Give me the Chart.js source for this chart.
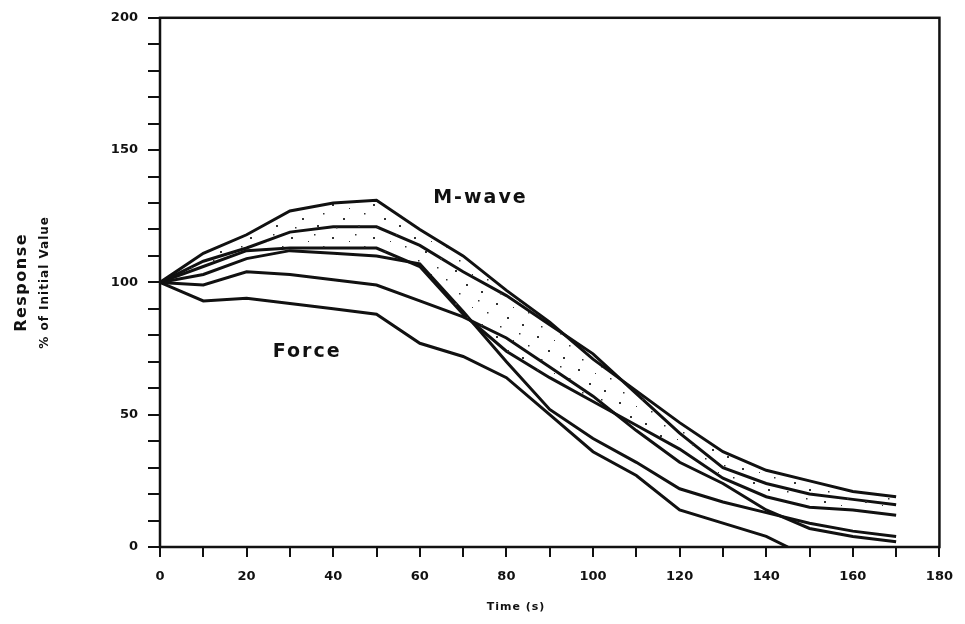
<!DOCTYPE html>
<html>
<head>
<meta charset="utf-8">
<script src="https://cdn.jsdelivr.net/npm/chart.js@4/dist/chart.umd.min.js"></script>
<style>
  html, body { margin: 0; padding: 0; background: #fff; }
  #wrap { width: 965px; height: 624px; }
</style>
</head>
<body>
<div id="wrap"><canvas id="responseChart"></canvas></div>
<script>
// time points (s)
const times = [0, 10, 20, 30, 40, 50, 60, 70, 80, 90, 100, 110, 120, 130, 140, 150, 160, 170];
const forceTimes = [0, 10, 20, 30, 40, 50, 60, 70, 80, 90, 100, 110, 120, 130, 140, 145];

// M-wave traces, % of initial value
const mwave1 = [100, 111, 118, 127, 130, 131, 120, 110, 97, 85, 71, 59, 47, 36, 29, 25, 21, 19];
const mwave2 = [100, 108, 113, 119, 121, 121, 114, 104, 95, 84, 73, 58, 43, 30, 24, 20, 18, 16];
const mwave3 = [100, 106, 112, 113, 113, 113, 106, 88, 74, 64, 55, 46, 37, 26, 19, 15, 14, 12];
const mwave4 = [100, 103, 109, 112, 111, 110, 107, 89, 70, 52, 41, 32, 22, 17, 13, 9, 6, 4];

// force traces, % of initial value
const force1 = [100, 99, 104, 103, 101, 99, 93, 87, 79, 68, 57, 44, 32, 24, 14, 7, 4, 2];
const force2 = [100, 93, 94, 92, 90, 88, 77, 72, 64, 50, 36, 27, 14, 9, 4, 0];

const xTicks = [0, 20, 40, 60, 80, 100, 120, 140, 160, 180];
const yTicks = [0, 50, 100, 150, 200];

const pts = (xs, ys) => xs.map((x, i) => ({ x, y: ys[i] }));

// sparse stipple for the M-wave band
function stipple() {
    const c = document.createElement('canvas');
    c.width = 41; c.height = 33;
    const g = c.getContext('2d');
    g.fillStyle = '#333';
    [[4, 6, 2], [27, 3, 1.5], [15, 20, 2], [36, 15, 1.5], [30, 27, 2], [8, 29, 1.5], [21, 10, 1]]
        .forEach(([x, y, s]) => g.fillRect(x, y, s, s));
    return g.createPattern(c, 'repeat');
}

const line = (data, extra) => Object.assign({
    data,
    borderColor: '#111',
    borderWidth: 3,
    pointRadius: 0,
    tension: 0,
    fill: false
}, extra || {});

const family = 'DejaVu Sans, Liberation Sans, sans-serif';
const font = { family, weight: 'bold' };

const frame = {
    id: 'frame',
    afterDraw(chart) {
        const { ctx, chartArea: a, scales } = chart;
        ctx.save();
        ctx.strokeStyle = '#111';
        ctx.lineWidth = 2.5;
        ctx.strokeRect(a.left, a.top, a.right - a.left, a.bottom - a.top);

        ctx.fillStyle = '#111';
        ctx.textAlign = 'center';
        ctx.textBaseline = 'middle';
        ctx.letterSpacing = '2px';
        ctx.font = 'bold 19px ' + family;
        ctx.fillText('M-wave', scales.x.getPixelForValue(74), scales.y.getPixelForValue(132));
        ctx.fillText('Force', scales.x.getPixelForValue(34), scales.y.getPixelForValue(73.5));

        ctx.letterSpacing = '1px';
        ctx.font = 'bold 11px ' + family;
        ctx.fillText('Time (s)', 516, 607);

        const cy = scales.y.getPixelForValue(100);
        ctx.translate(22, cy);
        ctx.rotate(-Math.PI / 2);
        ctx.letterSpacing = '1.5px';
        ctx.font = 'bold 16px ' + family;
        ctx.fillText('Response', 0, 0);
        ctx.letterSpacing = '1px';
        ctx.font = 'bold 12px ' + family;
        ctx.fillText('% of Initial Value', 0, 23);
        ctx.restore();
    }
};

new Chart(document.getElementById('responseChart'), {
    type: 'line',
    data: {
        datasets: [
            line(pts(times, mwave1), { fill: 2, backgroundColor: stipple() }),
            line(pts(times, mwave2)),
            line(pts(times, mwave3)),
            line(pts(times, mwave4)),
            line(pts(times, force1)),
            line(pts(forceTimes, force2))
        ]
    },
    options: {
        responsive: true,
        maintainAspectRatio: false,
        animation: false,
        layout: { padding: { top: 15, right: 25, left: 0, bottom: 0 } },
        plugins: {
            legend: { display: false },
            tooltip: { enabled: false }
        },
        scales: {
            x: {
                type: 'linear',
                min: 0,
                max: 180,
                border: { display: false },
                grid: {
                    drawOnChartArea: false,
                    color: '#111',
                    lineWidth: 2,
                    tickLength: 10
                },
                ticks: {
                    stepSize: 10,
                    color: '#111',
                    padding: 12,
                    maxRotation: 0,
                    font: Object.assign({ size: 13 }, font),
                    callback: v => xTicks.includes(v) ? String(v) : ''
                },
                afterFit(scale) { scale.height = 624 - 547; }
            },
            y: {
                min: 0,
                max: 200,
                border: { display: false },
                grid: {
                    drawOnChartArea: false,
                    color: '#111',
                    lineWidth: 2,
                    tickLength: 12
                },
                ticks: {
                    stepSize: 10,
                    color: '#111',
                    padding: 10,
                    font: Object.assign({ size: 13 }, font),
                    callback: v => yTicks.includes(v) ? String(v) : ''
                },
                afterFit(scale) { scale.width = 160; }
            }
        }
    },
    plugins: [frame]
});
</script>
</body>
</html>
